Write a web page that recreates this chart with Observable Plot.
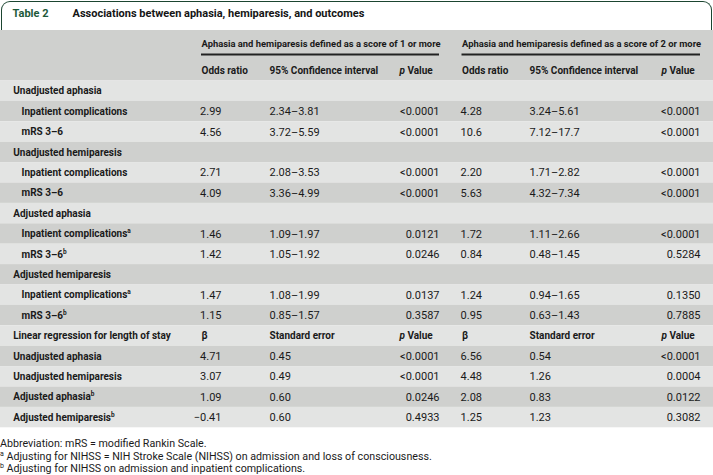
<!DOCTYPE html>
<html><head><meta charset="utf-8">
<script src="https://cdn.jsdelivr.net/npm/d3@7"></script>
<script src="https://cdn.jsdelivr.net/npm/@observablehq/plot@0.6"></script>
<style>
body{margin:0;background:#fff;font-family:Roboto,"Liberation Sans",sans-serif;color:#1a1a1a;}
#wrap{width:713px;}
#title{box-sizing:border-box;height:29px;margin:1px 1px 0 1px;border:1.5px solid #1b4530;border-bottom:none;border-radius:9px 9px 0 0;position:relative;font-weight:700;font-size:11px;line-height:13px;}
#title .num{position:absolute;left:10.5px;top:5px;color:#1d5a3a;}
#title .txt{position:absolute;left:70.5px;top:5px;color:#151515;}
#chart svg{display:block;}
#notes{font-size:10.7px;line-height:12.5px;padding-top:10px;color:#1a1a1a;}
#notes sup{font-size:7px;vertical-align:4px;line-height:0;}
</style>
</head><body>
<div id="wrap">
  <div id="title"><span class="num">Table 2</span><span class="txt">Associations between aphasia, hemiparesis, and outcomes</span></div>
  <div id="chart"></div>
  <div id="notes">
    <div>Abbreviation: mRS = modified Rankin Scale.</div>
    <div><sup>a</sup> Adjusting for NIHSS = NIH Stroke Scale (NIHSS) on admission and loss of consciousness.</div>
    <div><sup>b</sup> Adjusting for NIHSS on admission and inpatient complications.</div>
  </div>
</div>
<script>
// ---- data ----
const groupHeads = ["Aphasia and hemiparesis defined as a score of 1 or more",
                    "Aphasia and hemiparesis defined as a score of 2 or more"];
const colHeads = ["Odds ratio", "95% Confidence interval", "p Value"];
const labels = ["Unadjusted aphasia","Inpatient complications","mRS 3–6",
  "Unadjusted hemiparesis","Inpatient complications","mRS 3–6",
  "Adjusted aphasia","Inpatient complicationsᵃ","mRS 3–6ᵇ",
  "Adjusted hemiparesis","Inpatient complicationsᵃ","mRS 3–6ᵇ",
  "Linear regression for length of stay","Unadjusted aphasia","Unadjusted hemiparesis",
  "Adjusted aphasiaᵇ","Adjusted hemiparesisᵇ"];
const indent = [0,1,1,0,1,1,0,1,1,0,1,1,0,0,0,0,0];
const subHeadRow = 12; // "Linear regression" row holds column headers
const or1 = ["","2.99","4.56","","2.71","4.09","","1.46","1.42","","1.47","1.15","β","4.71","3.07","1.09","−0.41"];
const ci1 = ["","2.34–3.81","3.72–5.59","","2.08–3.53","3.36–4.99","","1.09–1.97","1.05–1.92","","1.08–1.99","0.85–1.57","Standard error","0.45","0.49","0.60","0.60"];
const p1  = ["","<0.0001","<0.0001","","<0.0001","<0.0001","","0.0121","0.0246","","0.0137","0.3587","p Value","<0.0001","<0.0001","0.0246","0.4933"];
const or2 = ["","4.28","10.6","","2.20","5.63","","1.72","0.84","","1.24","0.95","β","6.56","4.48","2.08","1.25"];
const ci2 = ["","3.24–5.61","7.12–17.7","","1.71–2.82","4.32–7.34","","1.11–2.66","0.48–1.45","","0.94–1.65","0.63–1.43","Standard error","0.54","1.26","0.83","1.23"];
const p2  = ["","<0.0001","<0.0001","","<0.0001","<0.0001","","<0.0001","0.5284","","0.1350","0.7885","p Value","<0.0001","0.0004","0.0122","0.3082"];

// ---- layout ----
const W = 713, H = 398, top0 = 50.5, rowH = 20.4;
const dark = "#cfd0ce", light = "#e3e4e3", ink = "#1a1a1a";
const groups = [
  {head: groupHeads[0], x0: 201, ci: 269, p: 439, pHead: 399, orR: 221, or: or1, cis: ci1, ps: p1},
  {head: groupHeads[1], x0: 461.5, ci: 529, p: 700, pHead: 661, orR: 481.5, or: or2, cis: ci2, ps: p2}
];
const rows = labels.map((label, i) => ({i, label, indent: indent[i]}));
const yTop = d => top0 + rowH * d.i;
const yMid = d => top0 + rowH * (d.i + 0.5);

const cells = [];
groups.forEach(g => {
  rows.forEach(r => {
    const head = r.i === subHeadRow;
    if (g.or[r.i]) cells.push({i: r.i, text: g.or[r.i], x: head ? g.x0 : g.orR, anchor: head ? "start" : "end", head});
    if (g.cis[r.i]) cells.push({i: r.i, text: g.cis[r.i], x: g.ci, anchor: "start", head});
    if (g.ps[r.i]) cells.push({i: r.i, text: g.ps[r.i], x: head ? g.pHead : g.p, anchor: head ? "start" : "end", head});
  });
});
const headCells = [];
groups.forEach(g => {
  headCells.push({text: colHeads[0], x: g.x0});
  headCells.push({text: colHeads[1], x: g.ci});
  headCells.push({text: colHeads[2], x: g.pHead});
});
const ruleStarts = groups.map(g => g.x0);
const ruleEnds = groups.map(g => g.p);

const chart = Plot.plot({
  width: W, height: H, margin: 0,
  x: {type: "linear", domain: [0, W], range: [0, W], axis: null},
  y: {type: "linear", domain: [0, H], range: [0, H], axis: null},
  style: {fontFamily: "Roboto, 'Liberation Sans', sans-serif", background: "#fff", color: ink},
  marks: [
    Plot.rect([0], {x1: 0, x2: W, y1: 0, y2: top0, fill: dark}),
    Plot.rect(rows, {x1: 0, x2: W, y1: yTop, y2: d => yTop(d) + rowH, fill: d => d.i % 2 ? dark : light}),
    Plot.text(groups, {x: "x0", y: 13.5, text: "head", textAnchor: "start", fontSize: 9.4, fontWeight: 700, fill: ink}),
    Plot.ruleY([0, 1], {y: () => 24, x1: i => ruleStarts[i], x2: i => ruleEnds[i], stroke: "#222", strokeWidth: 1.8}),
    Plot.text(headCells, {x: "x", y: 40, text: "text", textAnchor: "start", fontSize: 10, fontWeight: 700, fill: ink}),
    Plot.text(rows, {x: d => d.indent ? 21 : 12.7, y: yMid, text: "label", textAnchor: "start", fontSize: 10, fontWeight: 700, fill: ink}),
    Plot.text(cells.filter(c => c.head), {x: "x", y: yMid, text: "text", textAnchor: "start", fontSize: 10, fontWeight: 700, fill: ink}),
    Plot.text(cells.filter(c => !c.head && c.anchor === "start"), {x: "x", y: yMid, text: "text", textAnchor: "start", fontSize: 11, fill: ink}),
    Plot.text(cells.filter(c => !c.head && c.anchor === "end"), {x: "x", y: yMid, text: "text", textAnchor: "end", fontSize: 11, fill: ink})
  ]
});
document.getElementById("chart").appendChild(chart);

// italic "p" and real superscripts
chart.querySelectorAll("text").forEach(t => {
  const s = t.textContent;
  if (s === "p Value") {
    t.textContent = "";
    const a = document.createElementNS("http://www.w3.org/2000/svg", "tspan");
    a.setAttribute("font-style", "italic"); a.textContent = "p";
    const b = document.createElementNS("http://www.w3.org/2000/svg", "tspan");
    b.textContent = " Value";
    t.append(a, b);
  } else if (/[ᵃᵇ]$/.test(s)) {
    const base = s.slice(0, -1), sup = s.endsWith("ᵃ") ? "a" : "b";
    t.textContent = base;
    const sp = document.createElementNS("http://www.w3.org/2000/svg", "tspan");
    sp.setAttribute("font-size", "6.5"); sp.setAttribute("dy", "-4"); sp.setAttribute("font-weight", "700");
    sp.textContent = sup;
    t.append(sp);
  }
});
</script>
</body></html>
